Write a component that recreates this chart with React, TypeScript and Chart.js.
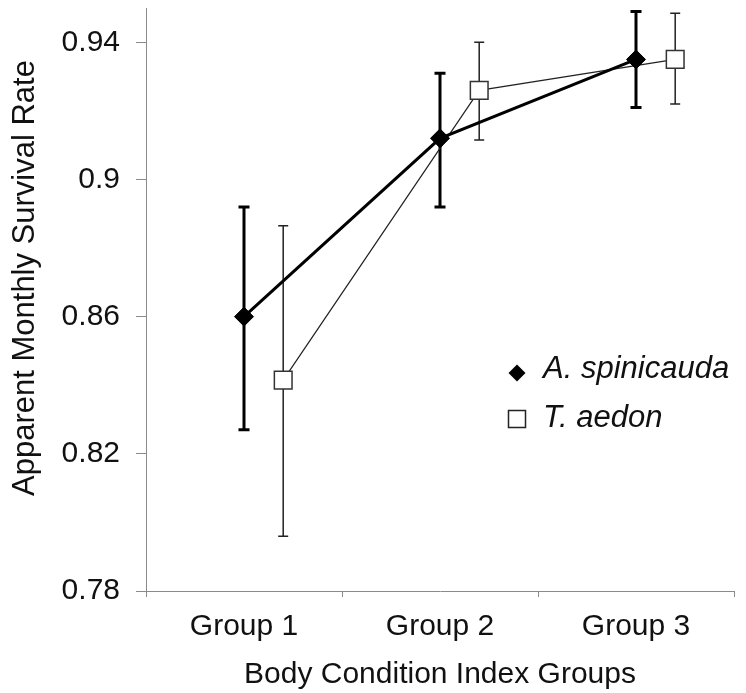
import React, { useEffect, useRef } from 'react';
import { Chart, registerables } from 'chart.js';

Chart.register(...registerables);

// ---- data ----
const categories = ['Group 1', 'Group 2', 'Group 3'];
const yTickValues = [0.78, 0.82, 0.86, 0.9, 0.94];
const seriesNames = ['A. spinicauda', 'T. aedon'];

const spinicaudaMean = [0.86, 0.912, 0.935];
const spinicaudaLower = [0.827, 0.892, 0.921];
const spinicaudaUpper = [0.892, 0.931, 0.949];

const aedonMean = [0.8415, 0.926, 0.935];
const aedonLower = [0.796, 0.9115, 0.922];
const aedonUpper = [0.8865, 0.94, 0.9485];

const X_AXIS_TITLE = 'Body Condition Index Groups';
const Y_AXIS_TITLE = 'Apparent Monthly Survival Rate';

// horizontal dodge (in category units) for the second series
const DODGE = 0.2;

const FONT = "'Liberation Sans', Arial, Helvetica, sans-serif";
const TEXT = '#111';
const AXIS = '#8a8a8a';

const errorBarPlugin = {
  id: 'errorBars',
  beforeDatasetsDraw(chart: any) {
    const { ctx } = chart;
    const xs = chart.scales.x;
    const ys = chart.scales.y;
    chart.data.datasets.forEach((ds: any) => {
      if (!ds.errLower) return;
      ctx.save();
      ctx.strokeStyle = ds.errColor;
      ctx.lineWidth = ds.errWidth;
      ds.data.forEach((pt: any, j: number) => {
        const px = xs.getPixelForValue(pt.x);
        const yl = ys.getPixelForValue(ds.errLower[j]);
        const yu = ys.getPixelForValue(ds.errUpper[j]);
        const c = ds.errCap;
        ctx.beginPath();
        ctx.moveTo(px, yl);
        ctx.lineTo(px, yu);
        ctx.moveTo(px - c, yl);
        ctx.lineTo(px + c, yl);
        ctx.moveTo(px - c, yu);
        ctx.lineTo(px + c, yu);
        ctx.stroke();
      });
      ctx.restore();
    });
  },
};

const overlayPlugin = {
  id: 'overlay',
  afterDraw(chart: any) {
    const { ctx, chartArea } = chart;
    ctx.save();
    // y axis title
    ctx.fillStyle = TEXT;
    ctx.font = `31px ${FONT}`;
    ctx.textAlign = 'center';
    ctx.textBaseline = 'middle';
    ctx.translate(25, 278);
    ctx.rotate(-Math.PI / 2);
    ctx.fillText(Y_AXIS_TITLE, 0, 0);
    ctx.restore();

    // legend
    const lx = chartArea.left + 371;
    const ly1 = 373;
    const ly2 = 419;
    ctx.save();
    // diamond
    ctx.fillStyle = '#000';
    ctx.beginPath();
    ctx.moveTo(lx, ly1 - 8.5);
    ctx.lineTo(lx + 8.5, ly1);
    ctx.lineTo(lx, ly1 + 8.5);
    ctx.lineTo(lx - 8.5, ly1);
    ctx.closePath();
    ctx.fill();
    // square
    ctx.fillStyle = '#fff';
    ctx.strokeStyle = '#222';
    ctx.lineWidth = 1.5;
    ctx.beginPath();
    ctx.rect(lx - 8.5, ly2 - 8.5, 17, 17);
    ctx.fill();
    ctx.stroke();
    ctx.fillStyle = TEXT;
    ctx.font = `italic 31px ${FONT}`;
    ctx.textAlign = 'left';
    ctx.textBaseline = 'alphabetic';
    ctx.fillText(seriesNames[0], lx + 26, 378);
    ctx.fillText(seriesNames[1], lx + 26, 427);
    ctx.restore();
  },
};

export default function App() {
  const canvasRef = useRef<HTMLCanvasElement | null>(null);

  useEffect(() => {
    const canvas = canvasRef.current;
    if (!canvas) return;
    const chart = new Chart(canvas, {
      type: 'line',
      data: {
        datasets: [
          {
            label: seriesNames[0],
            data: spinicaudaMean.map((v, i) => ({ x: i + 1, y: v })),
            borderColor: '#000',
            borderWidth: 3,
            backgroundColor: '#000',
            pointStyle: 'rectRot',
            pointRadius: 9.5,
            pointBorderWidth: 1,
            pointBackgroundColor: '#000',
            pointBorderColor: '#000',
            tension: 0,
            clip: false,
            errLower: spinicaudaLower,
            errUpper: spinicaudaUpper,
            errColor: '#000',
            errWidth: 3,
            errCap: 5.5,
          } as any,
          {
            label: seriesNames[1],
            data: aedonMean.map((v, i) => ({ x: i + 1 + DODGE, y: v })),
            borderColor: '#222',
            borderWidth: 1.2,
            backgroundColor: '#fff',
            pointStyle: 'rect',
            pointRadius: 12.5,
            pointBorderWidth: 1.5,
            pointBackgroundColor: '#fff',
            pointBorderColor: '#333',
            tension: 0,
            clip: false,
            errLower: aedonLower,
            errUpper: aedonUpper,
            errColor: '#222',
            errWidth: 1.5,
            errCap: 5,
          } as any,
        ],
      },
      options: {
        animation: false,
        responsive: false,
        events: [],
        layout: { autoPadding: false, padding: { top: 8, right: 12, left: 0, bottom: 0 } },
        plugins: {
          legend: { display: false },
          tooltip: { enabled: false },
        },
        scales: {
          x: {
            type: 'linear',
            min: 0.5,
            max: 3.5,
            afterBuildTicks: (s: any) => {
              const t: any[] = [{ value: 0.5 }];
              categories.forEach((_, i) => {
                t.push({ value: i + 1 });
                t.push({ value: i + 1.5 });
              });
              s.ticks = t;
            },
            afterFit: (s: any) => {
              s.height = 102;
              s.paddingLeft = 0;
              s.paddingRight = 0;
            },
            grid: {
              drawOnChartArea: false,
              drawTicks: true,
              tickLength: 6,
              color: (c: any) =>
                c.tick && Number.isInteger(c.tick.value) ? 'rgba(0,0,0,0)' : AXIS,
              lineWidth: 1,
            },
            border: { display: true, color: AXIS, width: 1 },
            ticks: {
              autoSkip: false,
              maxRotation: 0,
              minRotation: 0,
              padding: 12,
              color: TEXT,
              font: { family: FONT, size: 30 },
              callback: (v: any) =>
                Number.isInteger(v) ? categories[(v as number) - 1] : '',
            },
            title: {
              display: true,
              text: X_AXIS_TITLE,
              color: TEXT,
              font: { family: FONT, size: 30 },
              padding: { top: 0, bottom: 0 },
            },
          },
          y: {
            type: 'linear',
            min: 0.78,
            max: 0.95,
            afterBuildTicks: (s: any) => {
              s.ticks = yTickValues.map((v) => ({ value: v }));
            },
            afterFit: (s: any) => {
              s.width = 146;
              s.paddingTop = 0;
              s.paddingBottom = 0;
            },
            grid: {
              drawOnChartArea: false,
              drawTicks: true,
              tickLength: 10,
              color: AXIS,
              lineWidth: 1,
            },
            border: { display: true, color: AXIS, width: 1 },
            ticks: {
              padding: 16,
              color: TEXT,
              font: { family: FONT, size: 30 },
              callback: (v: any) => String(parseFloat(Number(v).toFixed(2))),
            },
            title: { display: false },
          },
        },
      } as any,
      plugins: [errorBarPlugin, overlayPlugin],
    });
    return () => chart.destroy();
  }, []);

  return (
    <div style={{ position: 'absolute', left: 0, top: 0, width: 746, height: 693, background: '#fff' }}>
      <canvas ref={canvasRef} width={746} height={693} style={{ display: 'block' }} />
    </div>
  );
}
